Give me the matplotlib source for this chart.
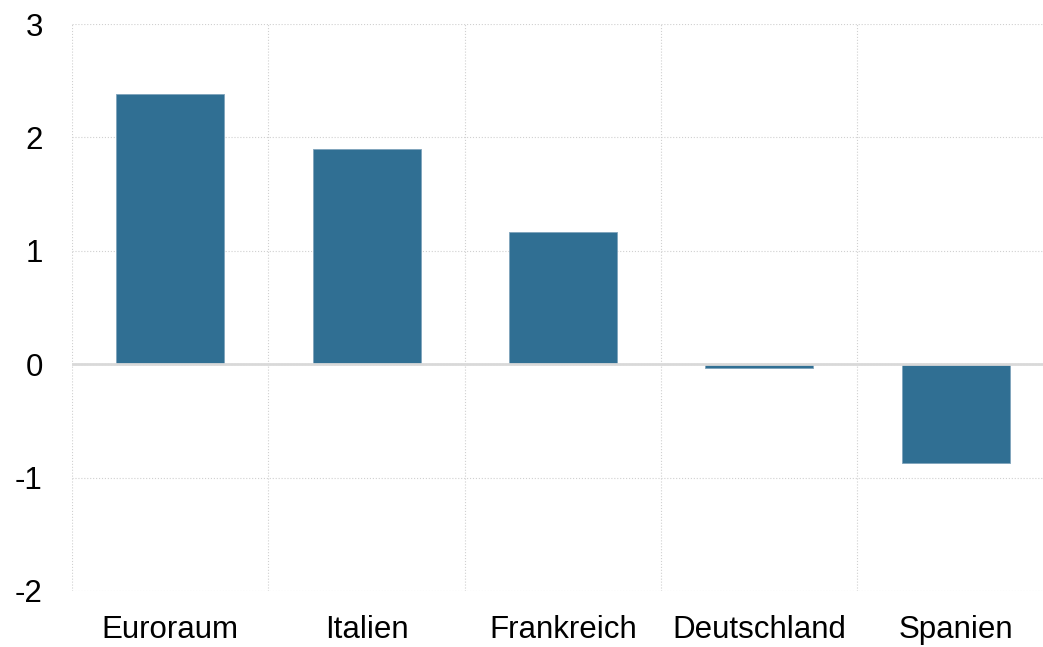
import matplotlib.pyplot as plt
import numpy as np

plt.rcParams['font.family'] = ['Liberation Sans', 'DejaVu Sans']

countries = ['Euroraum', 'Italien', 'Frankreich', 'Deutschland', 'Spanien']
values = [2.38, 1.90, 1.17, -0.03, -0.87]
yticks = [-2, -1, 0, 1, 2, 3]

fig = plt.figure(figsize=(10.43, 6.47), dpi=100)
ax = fig.add_axes([72 / 1043, 56 / 647, 971 / 1043, 567 / 647])

x_pos = np.arange(len(countries))
ax.bar(x_pos, values, width=0.55, color='#306f93', edgecolor='#7fa3bb', linewidth=0.6, zorder=3)
ax.axhline(0, color='#d9d9d9', lw=2, zorder=4)

ax.set_xlim(-0.5, 4.445)
ax.set_ylim(-2, 3)
ax.set_yticks(yticks)
ax.set_yticklabels([str(t) for t in yticks])
ax.set_xticks(x_pos)
ax.set_xticklabels(countries)

# vertical gridlines sit between the categories
ax.set_xticks(np.arange(-0.5, 4.0, 1.0), minor=True)
ax.xaxis.grid(True, which='minor', linestyle=':', color='#d0d0d0', lw=0.8, zorder=0)
ax.yaxis.grid(True, linestyle=':', color='#d0d0d0', lw=0.8, zorder=0)
ax.tick_params(axis='both', which='both', length=0, labelsize=22.5, colors='black')
ax.tick_params(axis='y', pad=21)
ax.tick_params(axis='x', pad=17.5)
for s in ax.spines.values():
    s.set_visible(False)

plt.savefig('out.png')
